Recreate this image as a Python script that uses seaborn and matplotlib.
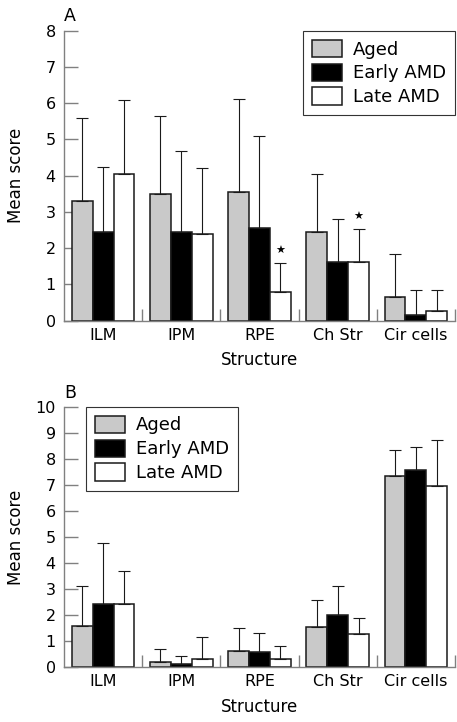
import pandas as pd
import matplotlib
matplotlib.use("Agg")
import matplotlib.pyplot as plt
import seaborn as sns

# Data (mean score and upper SD)
structures = ["ILM", "IPM", "RPE", "Ch Str", "Cir cells"]
groups = ["Aged", "Early AMD", "Late AMD"]

a_aged = [3.30, 3.50, 3.54, 2.46, 0.66]
a_early = [2.45, 2.46, 2.56, 1.62, 0.17]
a_late = [4.06, 2.39, 0.78, 1.62, 0.27]
a_aged_sd = [2.29, 2.16, 2.58, 1.58, 1.17]
a_early_sd = [1.78, 2.21, 2.53, 1.19, 0.69]
a_late_sd = [2.03, 1.81, 0.80, 0.90, 0.57]

b_aged = [1.60, 0.22, 0.61, 1.55, 7.35]
b_early = [2.42, 0.12, 0.58, 2.02, 7.56]
b_late = [2.42, 0.33, 0.33, 1.29, 6.97]
b_aged_sd = [1.53, 0.50, 0.91, 1.02, 0.97]
b_early_sd = [2.34, 0.33, 0.75, 1.10, 0.91]
b_late_sd = [1.26, 0.85, 0.50, 0.59, 1.74]

# significant differences marked with a star in panel A
a_stars = [("RPE", "Late AMD"), ("Ch Str", "Late AMD")]

colors = {"Aged": "#c9c9c9", "Early AMD": "#000000", "Late AMD": "#ffffff"}
axis_grey = "#808080"


def make_df(aged, early, late):
    rows = []
    for g, vals in zip(groups, [aged, early, late]):
        for s, v in zip(structures, vals):
            rows.append({"Structure": s, "Group": g, "Score": v})
    return pd.DataFrame(rows)


def draw_panel(ax, df, sds, ymax, letter, legend_anchor, legend_loc, stars=()):
    sns.barplot(data=df, x="Structure", y="Score", hue="Group", order=structures,
                hue_order=groups, palette=colors, errorbar=None, width=0.8,
                edgecolor="#1a1a1a", linewidth=1.1, saturation=1, ax=ax)
    # upper-only error bars
    for g, container, sd in zip(groups, ax.containers, sds):
        xs = [p.get_x() + p.get_width() / 2 for p in container]
        hs = [p.get_height() for p in container]
        ax.errorbar(xs, hs, yerr=[[0] * len(sd), sd], fmt="none", ecolor="#1a1a1a",
                    elinewidth=0.8, capsize=4, capthick=0.8, zorder=1)
        for s, x, h, e in zip(structures, xs, hs, sd):
            if (s, g) in stars:
                ax.annotate("\u2605", xy=(x, h + e), xytext=(0, 9), textcoords="offset points",
                            ha="center", va="center", fontsize=8, color="black")
    ax.set_xlim(-0.5, 4.5)
    ax.set_ylim(0, ymax)
    ax.set_yticks(range(0, ymax + 1))
    ax.set_xticks([i + 0.5 for i in range(5)], minor=True)
    sns.despine(ax=ax)
    for sp in ["left", "bottom"]:
        ax.spines[sp].set_color(axis_grey)
        ax.spines[sp].set_linewidth(1.0)
    ax.tick_params(axis="y", left=True, direction="in", length=10, width=1.0, color=axis_grey,
                   labelsize=11.5, labelcolor="black", pad=6)
    ax.tick_params(axis="x", which="major", bottom=False, length=0, labelsize=11.5,
                   labelcolor="black", pad=5)
    ax.tick_params(axis="x", which="minor", bottom=True, direction="in", length=9, width=1.0,
                   color=axis_grey)
    ax.set_xlabel("Structure", fontsize=12, labelpad=6, color="black")
    ax.set_ylabel("Mean score", fontsize=12, color="black")
    ax.yaxis.set_label_coords(-0.10, 0.5)
    ax.text(0.0, 1.033, letter, transform=ax.transAxes, fontsize=12.5, va="baseline",
            ha="left", color="black")
    handles, labels = ax.get_legend_handles_labels()
    leg = ax.legend(handles, labels, loc=legend_loc, bbox_to_anchor=legend_anchor,
                    borderaxespad=0, fontsize=13, handlelength=1.66, handleheight=1.1,
                    labelspacing=0.28, handletextpad=0.6, borderpad=0.5,
                    fancybox=False, framealpha=1, edgecolor="#333333", labelcolor="black")
    leg.get_frame().set_linewidth(0.8)
    for h in leg.legend_handles:
        h.set_edgecolor("#1a1a1a")
        h.set_linewidth(1.1)


sns.set_style("white")
plt.rcParams["font.family"] = ["DejaVu Sans"]

fig = plt.figure(figsize=(4.57, 7.22), dpi=100)
ax_a = fig.add_axes([0.140, 0.5558, 0.8556, 0.4017])
ax_b = fig.add_axes([0.140, 0.0758, 0.8556, 0.3610])

draw_panel(ax_a, make_df(a_aged, a_early, a_late), [a_aged_sd, a_early_sd, a_late_sd],
           8, "A", (1.0, 1.0), "upper right", stars=a_stars)
draw_panel(ax_b, make_df(b_aged, b_early, b_late), [b_aged_sd, b_early_sd, b_late_sd],
           10, "B", (0.056, 1.0), "upper left")

fig.savefig("out.png", dpi=100)
